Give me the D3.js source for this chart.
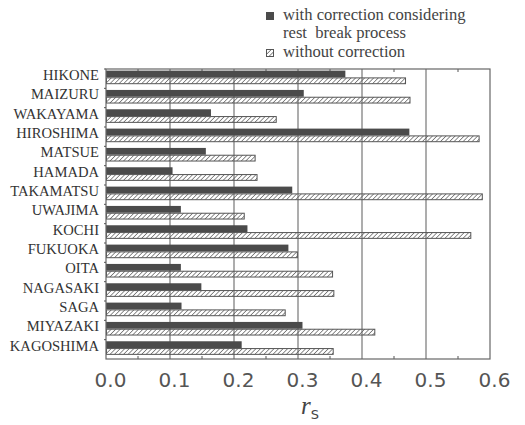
<!DOCTYPE html>
<html>
<head>
<meta charset="utf-8">
<script src="https://cdn.jsdelivr.net/npm/d3@7"></script>
<style>
  body { margin: 0; background: #fff; }
</style>
</head>
<body>
<div id="my_dataviz"></div>
<script>
// data
var cities = ["HIKONE", "MAIZURU", "WAKAYAMA", "HIROSHIMA", "MATSUE", "HAMADA", "TAKAMATSU",
  "UWAJIMA", "KOCHI", "FUKUOKA", "OITA", "NAGASAKI", "SAGA", "MIYAZAKI", "KAGOSHIMA"];
var withCorrection = [0.374, 0.309, 0.164, 0.474, 0.156, 0.104, 0.291,
  0.117, 0.221, 0.285, 0.117, 0.149, 0.118, 0.307, 0.212];
var withoutCorrection = [0.468, 0.475, 0.266, 0.583, 0.233, 0.236, 0.588,
  0.216, 0.570, 0.299, 0.354, 0.356, 0.280, 0.420, 0.355];
var seriesNames = ["with", "without"];
var xTicks = [0, 0.1, 0.2, 0.3, 0.4, 0.5, 0.6];
var xMinorTicks = [0.05, 0.15, 0.25, 0.35, 0.45, 0.55];

// set the dimensions and margins of the graph
var margin = {top: 69, right: 35, bottom: 66, left: 106},
    width = 525 - margin.left - margin.right,
    height = 425 - margin.top - margin.bottom;

var svg = d3.select("#my_dataviz")
  .append("svg")
    .attr("width", 525)
    .attr("height", 425)
  .append("g")
    .attr("transform", "translate(" + margin.left + "," + margin.top + ")");

// hatch pattern for "without correction"
var defs = svg.append("defs");
defs.append("pattern")
    .attr("id", "hatch")
    .attr("patternUnits", "userSpaceOnUse")
    .attr("width", 3.2)
    .attr("height", 3.2)
    .attr("patternTransform", "rotate(45)")
  .append("line")
    .attr("x1", 0).attr("y1", 0)
    .attr("x2", 0).attr("y2", 3.2)
    .attr("stroke", "#555")
    .attr("stroke-width", 1.3);

// X scale
var x = d3.scaleLinear()
  .domain([0, 0.6])
  .range([0, width]);

// Y scale
var y = d3.scaleBand()
  .domain(cities)
  .range([0, height]);

var ySub = d3.scaleBand()
  .domain(seriesNames)
  .range([1.6, 15.2]);

// grid lines
svg.append("g")
  .selectAll("line")
  .data(xTicks.slice(1, -1))
  .enter()
  .append("line")
    .attr("x1", function (d) { return x(d); })
    .attr("x2", function (d) { return x(d); })
    .attr("y1", 0)
    .attr("y2", height)
    .attr("stroke", "#6a6a6a")
    .attr("stroke-width", 1.1);

// minor ticks top and bottom
svg.append("g")
  .selectAll("line")
  .data(xMinorTicks)
  .enter()
  .append("line")
    .attr("x1", function (d) { return x(d); })
    .attr("x2", function (d) { return x(d); })
    .attr("y1", height)
    .attr("y2", height - 3)
    .attr("stroke", "#555");
svg.append("g")
  .selectAll("line")
  .data(xMinorTicks)
  .enter()
  .append("line")
    .attr("x1", function (d) { return x(d); })
    .attr("x2", function (d) { return x(d); })
    .attr("y1", 0)
    .attr("y2", 3)
    .attr("stroke", "#555");

// bars
var rows = svg.append("g")
  .selectAll("g")
  .data(cities)
  .enter()
  .append("g")
    .attr("transform", function (d) { return "translate(0," + y(d) + ")"; });

rows.append("rect")
    .attr("x", 0)
    .attr("y", ySub("with"))
    .attr("width", function (d, i) { return x(withCorrection[i]); })
    .attr("height", ySub.bandwidth())
    .attr("fill", "#4b4b4b");

rows.append("rect")
    .attr("x", 0.5)
    .attr("y", ySub("without") + 0.5)
    .attr("width", function (d, i) { return x(withoutCorrection[i]) - 0.5; })
    .attr("height", ySub.bandwidth() - 1)
    .attr("fill", "url(#hatch)")
    .attr("stroke", "#555")
    .attr("stroke-width", 1);

// frame
svg.append("rect")
    .attr("x", 0)
    .attr("y", 0)
    .attr("width", width)
    .attr("height", height)
    .attr("fill", "none")
    .attr("stroke", "#666")
    .attr("stroke-width", 1.2);

// left axis with category labels
var yAxis = svg.append("g")
  .call(d3.axisLeft(y).tickSize(0).tickPadding(7));
yAxis.select(".domain").remove();
yAxis.selectAll("text")
    .attr("font-family", "'Liberation Serif', 'DejaVu Serif', serif")
    .attr("font-size", "14.6px")
    .attr("fill", "#333")
    .attr("dy", "0.1em");

// small ticks at category boundaries
svg.append("g")
  .selectAll("line")
  .data(cities)
  .enter()
  .append("line")
    .attr("x1", -2)
    .attr("x2", 0)
    .attr("y1", function (d) { return y(d); })
    .attr("y2", function (d) { return y(d); })
    .attr("stroke", "#555");

// bottom tick labels
var xAxis = svg.append("g")
  .attr("transform", "translate(0," + height + ")")
  .call(d3.axisBottom(x).tickValues(xTicks).tickFormat(d3.format(".1f")).tickSize(0).tickPadding(14));
xAxis.select(".domain").remove();
xAxis.selectAll("text")
    .attr("font-family", "'DejaVu Sans', sans-serif")
    .attr("font-size", "20px")
    .attr("fill", "#555")
    .attr("dx", "4px");

// axis title r_S
var title = svg.append("text")
    .attr("x", width / 2 + 12)
    .attr("y", height + 55)
    .attr("text-anchor", "middle")
    .attr("fill", "#444");
title.append("tspan")
    .attr("font-family", "'Liberation Serif', serif")
    .attr("font-style", "italic")
    .attr("font-size", "25px")
    .text("r");
title.append("tspan")
    .attr("font-family", "'DejaVu Sans', sans-serif")
    .attr("font-size", "13px")
    .attr("dy", "5")
    .text("S");

// legend
var legend = d3.select("svg").append("g")
    .attr("transform", "translate(266,0)");
legend.append("rect")
    .attr("x", 0).attr("y", 12)
    .attr("width", 8).attr("height", 8)
    .attr("fill", "#4b4b4b");
legend.append("rect")
    .attr("x", 0.5).attr("y", 49.5)
    .attr("width", 7).attr("height", 7)
    .attr("fill", "url(#hatch)")
    .attr("stroke", "#555");
var legendText = [
  {t: "with correction considering", y: 20},
  {t: "rest  break process", y: 38},
  {t: "without correction", y: 57}
];
legend.selectAll("text")
  .data(legendText)
  .enter()
  .append("text")
    .attr("x", 17)
    .attr("y", function (d) { return d.y; })
    .attr("font-family", "'Liberation Serif', serif")
    .attr("font-size", "16.6px")
    .attr("fill", "#444")
    .style("white-space", "pre")
    .text(function (d) { return d.t; });
</script>
</body>
</html>
